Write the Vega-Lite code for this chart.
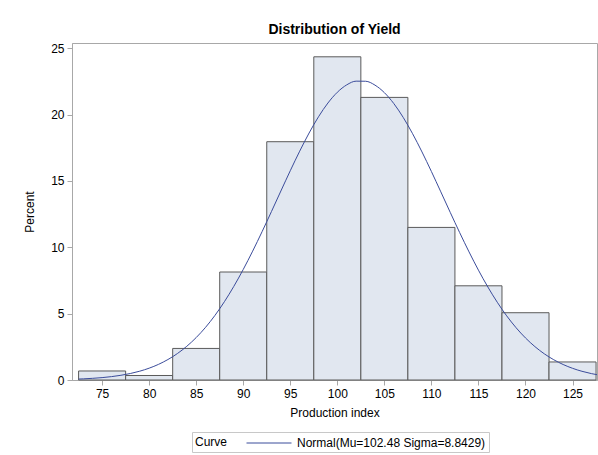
{
  "$schema": "https://vega.github.io/schema/vega-lite/v6.json",
  "width": 525,
  "height": 337,
  "autosize": {"type": "none"},
  "padding": {"left": 72, "top": 43, "right": 1, "bottom": 75},
  "title": {"text": "Distribution of Yield", "fontSize": 14, "fontWeight": "bold", "font": "Liberation Sans", "color": "#000000", "offset": 5, "anchor": "middle"},
  "config": {
    "font": "Liberation Sans",
    "view": {"stroke": "#a8a8a8", "strokeWidth": 1},
    "axis": {"grid": false, "domainColor": "#a8a8a8", "tickColor": "#a8a8a8", "labelFontSize": 12, "titleFontSize": 12, "titleFontWeight": "normal", "labelColor": "#000000", "titleColor": "#000000", "tickSize": 5, "labelPadding": 3}
  },
  "datasets": {
    "bars": [
      {"lo": 72.5, "hi": 77.5, "pct": 0.68},
      {"lo": 77.5, "hi": 82.5, "pct": 0.34},
      {"lo": 82.5, "hi": 87.5, "pct": 2.38},
      {"lo": 87.5, "hi": 92.5, "pct": 8.14},
      {"lo": 92.5, "hi": 97.5, "pct": 17.96},
      {"lo": 97.5, "hi": 102.5, "pct": 24.36},
      {"lo": 102.5, "hi": 107.5, "pct": 21.3},
      {"lo": 107.5, "hi": 112.5, "pct": 11.5},
      {"lo": 112.5, "hi": 117.5, "pct": 7.1},
      {"lo": 117.5, "hi": 122.5, "pct": 5.07},
      {"lo": 122.5, "hi": 127.5, "pct": 1.36}
    ],
    "curve": [
      {"x": 72.5, "y": 0.072, "c": "Normal(Mu=102.48 Sigma=8.8429)"},
      {"x": 73, "y": 0.087, "c": "Normal(Mu=102.48 Sigma=8.8429)"},
      {"x": 74, "y": 0.126, "c": "Normal(Mu=102.48 Sigma=8.8429)"},
      {"x": 75, "y": 0.180, "c": "Normal(Mu=102.48 Sigma=8.8429)"},
      {"x": 76, "y": 0.255, "c": "Normal(Mu=102.48 Sigma=8.8429)"},
      {"x": 77, "y": 0.355, "c": "Normal(Mu=102.48 Sigma=8.8429)"},
      {"x": 78, "y": 0.489, "c": "Normal(Mu=102.48 Sigma=8.8429)"},
      {"x": 79, "y": 0.664, "c": "Normal(Mu=102.48 Sigma=8.8429)"},
      {"x": 80, "y": 0.891, "c": "Normal(Mu=102.48 Sigma=8.8429)"},
      {"x": 81, "y": 1.180, "c": "Normal(Mu=102.48 Sigma=8.8429)"},
      {"x": 82, "y": 1.544, "c": "Normal(Mu=102.48 Sigma=8.8429)"},
      {"x": 83, "y": 1.993, "c": "Normal(Mu=102.48 Sigma=8.8429)"},
      {"x": 84, "y": 2.541, "c": "Normal(Mu=102.48 Sigma=8.8429)"},
      {"x": 85, "y": 3.198, "c": "Normal(Mu=102.48 Sigma=8.8429)"},
      {"x": 86, "y": 3.973, "c": "Normal(Mu=102.48 Sigma=8.8429)"},
      {"x": 87, "y": 4.874, "c": "Normal(Mu=102.48 Sigma=8.8429)"},
      {"x": 88, "y": 5.903, "c": "Normal(Mu=102.48 Sigma=8.8429)"},
      {"x": 89, "y": 7.058, "c": "Normal(Mu=102.48 Sigma=8.8429)"},
      {"x": 90, "y": 8.333, "c": "Normal(Mu=102.48 Sigma=8.8429)"},
      {"x": 91, "y": 9.712, "c": "Normal(Mu=102.48 Sigma=8.8429)"},
      {"x": 92, "y": 11.176, "c": "Normal(Mu=102.48 Sigma=8.8429)"},
      {"x": 93, "y": 12.697, "c": "Normal(Mu=102.48 Sigma=8.8429)"},
      {"x": 94, "y": 14.243, "c": "Normal(Mu=102.48 Sigma=8.8429)"},
      {"x": 95, "y": 15.773, "c": "Normal(Mu=102.48 Sigma=8.8429)"},
      {"x": 96, "y": 17.246, "c": "Normal(Mu=102.48 Sigma=8.8429)"},
      {"x": 97, "y": 18.616, "c": "Normal(Mu=102.48 Sigma=8.8429)"},
      {"x": 98, "y": 19.840, "c": "Normal(Mu=102.48 Sigma=8.8429)"},
      {"x": 99, "y": 20.876, "c": "Normal(Mu=102.48 Sigma=8.8429)"},
      {"x": 100, "y": 21.687, "c": "Normal(Mu=102.48 Sigma=8.8429)"},
      {"x": 101, "y": 22.244, "c": "Normal(Mu=102.48 Sigma=8.8429)"},
      {"x": 102, "y": 22.524, "c": "Normal(Mu=102.48 Sigma=8.8429)"},
      {"x": 103, "y": 22.518, "c": "Normal(Mu=102.48 Sigma=8.8429)"},
      {"x": 104, "y": 22.226, "c": "Normal(Mu=102.48 Sigma=8.8429)"},
      {"x": 105, "y": 21.659, "c": "Normal(Mu=102.48 Sigma=8.8429)"},
      {"x": 106, "y": 20.839, "c": "Normal(Mu=102.48 Sigma=8.8429)"},
      {"x": 107, "y": 19.795, "c": "Normal(Mu=102.48 Sigma=8.8429)"},
      {"x": 108, "y": 18.564, "c": "Normal(Mu=102.48 Sigma=8.8429)"},
      {"x": 109, "y": 17.188, "c": "Normal(Mu=102.48 Sigma=8.8429)"},
      {"x": 110, "y": 15.713, "c": "Normal(Mu=102.48 Sigma=8.8429)"},
      {"x": 111, "y": 14.181, "c": "Normal(Mu=102.48 Sigma=8.8429)"},
      {"x": 112, "y": 12.636, "c": "Normal(Mu=102.48 Sigma=8.8429)"},
      {"x": 113, "y": 11.116, "c": "Normal(Mu=102.48 Sigma=8.8429)"},
      {"x": 114, "y": 9.655, "c": "Normal(Mu=102.48 Sigma=8.8429)"},
      {"x": 115, "y": 8.279, "c": "Normal(Mu=102.48 Sigma=8.8429)"},
      {"x": 116, "y": 7.009, "c": "Normal(Mu=102.48 Sigma=8.8429)"},
      {"x": 117, "y": 5.859, "c": "Normal(Mu=102.48 Sigma=8.8429)"},
      {"x": 118, "y": 4.835, "c": "Normal(Mu=102.48 Sigma=8.8429)"},
      {"x": 119, "y": 3.940, "c": "Normal(Mu=102.48 Sigma=8.8429)"},
      {"x": 120, "y": 3.169, "c": "Normal(Mu=102.48 Sigma=8.8429)"},
      {"x": 121, "y": 2.517, "c": "Normal(Mu=102.48 Sigma=8.8429)"},
      {"x": 122, "y": 1.973, "c": "Normal(Mu=102.48 Sigma=8.8429)"},
      {"x": 123, "y": 1.528, "c": "Normal(Mu=102.48 Sigma=8.8429)"},
      {"x": 124, "y": 1.168, "c": "Normal(Mu=102.48 Sigma=8.8429)"},
      {"x": 125, "y": 0.881, "c": "Normal(Mu=102.48 Sigma=8.8429)"},
      {"x": 126, "y": 0.656, "c": "Normal(Mu=102.48 Sigma=8.8429)"},
      {"x": 127, "y": 0.483, "c": "Normal(Mu=102.48 Sigma=8.8429)"},
      {"x": 128, "y": 0.346, "c": "Normal(Mu=102.48 Sigma=8.8429)"}
    ]
  },
  "layer": [
    {
      "data": {"name": "bars"},
      "mark": {"type": "rect", "fill": "#e1e7f0", "stroke": "#5a5a5a", "strokeWidth": 1},
      "encoding": {
        "x": {"field": "lo", "type": "quantitative", "scale": {"domain": [71.8, 127.6], "nice": false, "zero": false}, "axis": {"values": [75, 80, 85, 90, 95, 100, 105, 110, 115, 120, 125], "title": "Production index", "titlePadding": 8}},
        "x2": {"field": "hi"},
        "y": {"field": "pct", "type": "quantitative", "scale": {"domain": [0, 25.4], "nice": false}, "axis": {"values": [0, 5, 10, 15, 20, 25], "title": "Percent", "titlePadding": 14}},
        "y2": {"datum": 0}
      }
    },
    {
      "data": {"name": "curve"},
      "mark": {"type": "line", "clip": true, "strokeWidth": 1, "interpolate": "monotone"},
      "encoding": {
        "x": {"field": "x", "type": "quantitative"},
        "y": {"field": "y", "type": "quantitative"},
        "color": {"field": "c", "type": "nominal", "scale": {"range": ["#3b4c9b"]},
          "legend": {"title": "Curve", "orient": "none", "legendX": 120, "legendY": 389, "direction": "horizontal", "titleOrient": "left", "titleFontSize": 12, "titleFontWeight": "normal", "titleColor": "#000000", "labelFontSize": 12, "labelColor": "#000000", "labelLimit": 400, "symbolType": "M-3,0H3", "symbolSize": 225, "symbolStrokeWidth": 1, "symbolStrokeColor": "#3b4c9b", "strokeColor": "#c8c8c8", "padding": 3, "fillColor": "#ffffff", "titlePadding": 33, "labelOffset": 20}}
      }
    }
  ]
}
